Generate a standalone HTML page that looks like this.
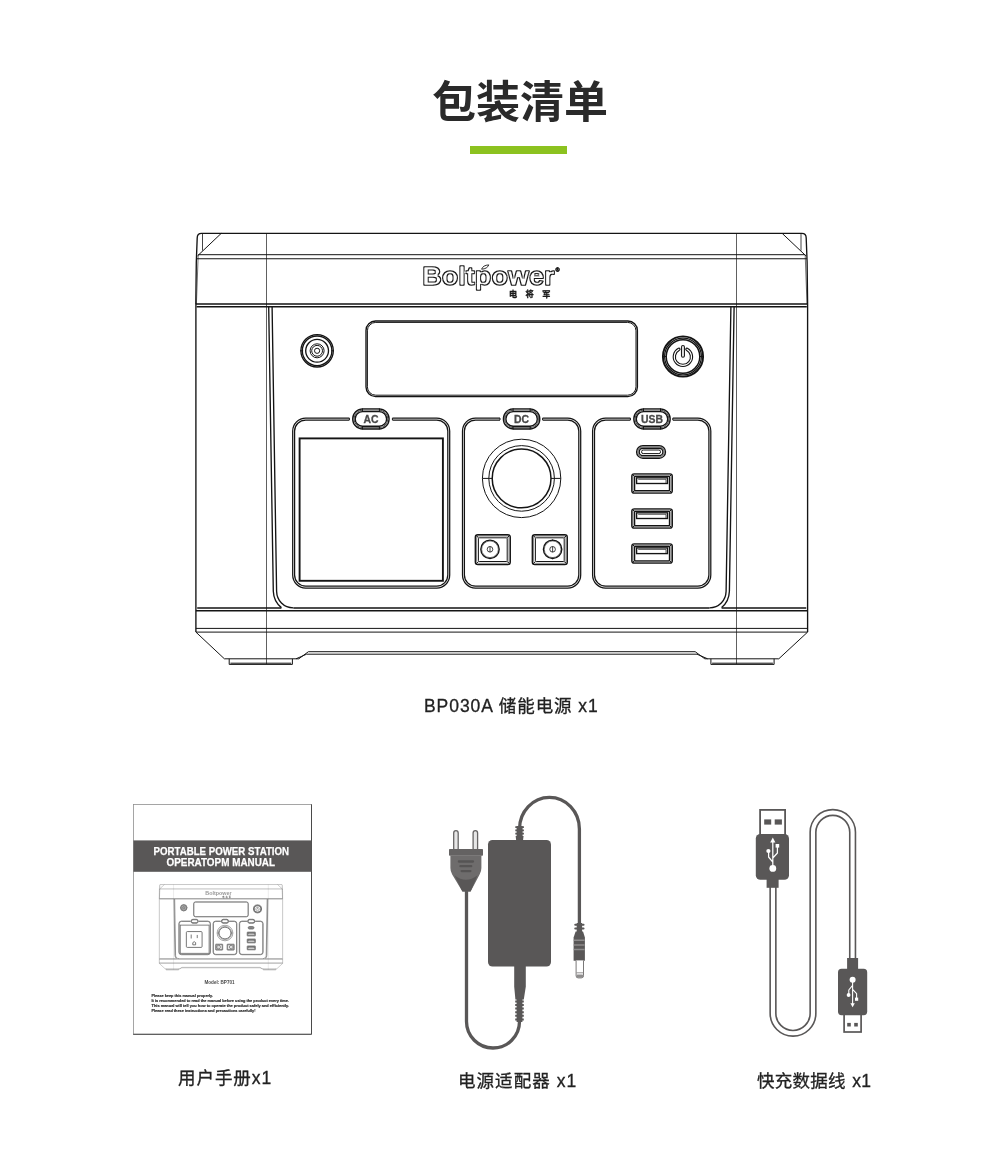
<!DOCTYPE html>
<html lang="zh-CN">
<head>
<meta charset="utf-8">
<title>包装清单</title>
<style>
html,body{margin:0;padding:0;background:#fff;}
body{width:1000px;height:1172px;position:relative;overflow:hidden;font-family:"Liberation Sans","Noto Sans CJK SC",sans-serif;color:#222;}
#art{position:absolute;left:0;top:0;width:1000px;height:1172px;display:block;}
h1{position:absolute;left:0;top:0;margin:0;width:1000px;font-weight:700;font-size:44px;line-height:44px;color:#2a2a2a;white-space:nowrap;}
h1 span{position:absolute;left:431.5px;top:81px;will-change:transform;}
.bar{position:absolute;left:470px;top:146px;width:97px;height:8px;background:#8cc220;}
.sh{stroke-opacity:var(--sh,1)}
.k{stroke-width:var(--k,1.35px)}.b{stroke-width:var(--k,1.25px)}.km{stroke-width:var(--kk,1.5px)}.kk{stroke-width:var(--kk,1.9px)}
.lab{position:absolute;margin:0;font-size:17.5px;line-height:24px;height:24px;white-space:nowrap;letter-spacing:0.95px;color:#222;font-weight:400;-webkit-text-stroke:0.3px #222;will-change:transform;}
</style>
</head>
<body>
<h1><span>包装清单</span></h1>
<div class="bar"></div>

<svg id="art" width="1000" height="1172" viewBox="0 0 1000 1172">
<defs>
<g id="dev" fill="none">
<g class="sh">
<!-- lid outline -->
<path d="M195.8,304 L196.3,262 L197.2,238 Q197.2,233.4 201.6,233.4 L801.8,233.4 Q806.2,233.4 806.2,238 L807.1,262 L807.6,304" class="k"/>
<path d="M198.2,255 L196.4,304 M805.2,255 L807,304" stroke-opacity=".6"/>
<path d="M202.5,233.5 V250.6 M801,233.5 V250.6" stroke-width="0.8"/><path d="M221.2,233.4 L197.6,255.8 M782.2,233.4 L805.9,255.8"/>
<path d="M198.2,254.7 H805.2"/><path d="M196.6,258.7 H806.8" stroke-width="1.15"/>
<!-- long verticals -->
<path d="M266.5,233.4 V664 M736.5,233.4 V664" stroke-width="0.8" stroke-opacity=".85"/>
<!-- seam under lid -->
<path d="M195.8,304.1 H807.6 M196.6,306.8 H806.8" class="km"/>
<!-- body sides -->
<path d="M195.9,304 V632 M807.6,304 V632" class="k"/>
<!-- lower seams -->
<path d="M197.2,607.9 H281.4 M293.4,607.9 H709.4 M721.6,607.9 H806.2 M195.9,610.7 H807.6" class="km"/>
<path d="M195.9,628.4 H807.6 M195.9,632.1 H807.6"/>
<!-- base -->
<path d="M195.9,632.1 L224.4,658.8 H298.8 L308.4,651.7 H695.2 L704.8,658.8 H778.8 L807.6,632.1"/>
<path d="M296,658.8 L306.6,654.2 H697 L707.6,658.8"/>
<path d="M229.2,658.8 V664.4 H292.4 V658.8 M230.4,663.2 H291.2 M710.9,658.8 V664.4 H774.1 V658.8 M712.1,663.2 H772.9"/>
</g>
<!-- front panel frame -->
<path d="M268.7,307 L273.3,591.3 Q273.7,601.6 281.4,607.6 M734.1,307 L729.4,591.3 Q729,601.6 721.6,607.6" class="k"/>
<path d="M272.1,307 L276.6,591.3 C276.9,600.6 283.6,607.9 293.4,607.9 M730.9,307 L726.1,591.3 C725.8,600.6 719.1,607.9 709.4,607.9" class="k"/>
<!-- display -->
<rect x="366" y="321" width="271.4" height="75.6" rx="9.5" class="k"/>
<rect x="367.4" y="322.4" width="268.6" height="72.8" rx="8.4"/>
<!-- small round jack -->
<g class="k"><circle cx="317.1" cy="350.8" r="16.2"/><circle cx="317.1" cy="350.8" r="14.8"/><circle cx="317.1" cy="350.8" r="11.4"/></g>
<circle cx="317.1" cy="350.8" r="7"/><circle cx="317.1" cy="350.8" r="5.4"/><circle cx="317.1" cy="350.8" r="2.6"/>
<path d="M300.2,350.8 H303.2 M331,350.8 H334"/>
<!-- power button -->
<circle cx="683" cy="356.5" r="20.1" class="kk"/><circle cx="683" cy="356.5" r="18.4" class="b"/><circle cx="683" cy="356.5" r="16.8" class="km"/>
<path d="M662.2,356.5 H666.4 M699.6,356.5 H703.8"/>
<path d="M678.9,349.2 A8.6,8.6 0 1 0 686.9,349.2" stroke-width="3.3" stroke-linecap="round"/>
<path d="M678.9,349.2 A8.6,8.6 0 1 0 686.9,349.2" stroke="#fff" stroke-width="1.1" stroke-linecap="round"/>
<path d="M682.95,347.1 V355.8" stroke-width="4" stroke-linecap="round"/>
<path d="M682.95,347.1 V355.8" stroke="#e2e2e2" stroke-width="2" stroke-linecap="round"/>
<!-- AC box -->
<path d="M349.4,418.1 H305.7 A13,13 0 0 0 292.7,431.1 V575.0 A13,13 0 0 0 305.7,588 H436.7 A13,13 0 0 0 449.7,575.0 V431.1 A13,13 0 0 0 436.7,418.1 H392.4" class="b"/>
<path d="M349.4,420.0 H305.7 A11.1,11.1 0 0 0 294.6,431.1 V575.0 A11.1,11.1 0 0 0 305.7,586.1 H436.7 A11.1,11.1 0 0 0 447.8,575.0 V431.1 A11.1,11.1 0 0 0 436.7,420.0 H392.4" class="b"/>
<path d="M349.4,418.1 V420.0 M392.4,418.1 V420.0"/>
<rect x="299.6" y="438.4" width="143.3" height="142.4" class="kk"/>
<!-- DC box -->
<path d="M500,418.1 H475.5 A13,13 0 0 0 462.5,431.1 V575.0 A13,13 0 0 0 475.5,588 H567.7 A13,13 0 0 0 580.7,575.0 V431.1 A13,13 0 0 0 567.7,418.1 H542.6" class="b"/>
<path d="M500,420.0 H475.5 A11.1,11.1 0 0 0 464.4,431.1 V575.0 A11.1,11.1 0 0 0 475.5,586.1 H567.7 A11.1,11.1 0 0 0 578.8,575.0 V431.1 A11.1,11.1 0 0 0 567.7,420.0 H542.6" class="b"/>
<path d="M500,418.1 V420.0 M542.6,418.1 V420.0"/>
<circle cx="521.6" cy="478.4" r="39.2"/>
<circle cx="521.6" cy="478.4" r="32.8"/>
<circle cx="521.6" cy="478.4" r="29.4" class="km"/>
<path d="M482.4,478.4 H492.2 M551,478.4 H560.8"/>
<!-- DC small ports -->
<g id="dcp">
<rect x="475.3" y="534.7" width="35" height="29.9" rx="2.6" class="k"/>
<rect x="476.6" y="536" width="32.4" height="27.3" rx="1.8" stroke-opacity=".55"/>
<rect x="478.4" y="537.8" width="28.8" height="23.7" rx="0.8"/>
<path d="M476,535.4 L478.4,537.8 M509.6,535.4 L507.2,537.8 M476,563.9 L478.4,561.5 M509.6,563.9 L507.2,561.5"/>
<circle cx="490" cy="549.3" r="9.2" class="k"/><circle cx="490" cy="549.3" r="8.3" stroke-opacity=".5"/>
<circle cx="490" cy="549.3" r="2.8" stroke-width="0.8"/><path d="M490,546.5 V552.1" stroke-width="0.8"/>
</g>
<use href="#dcp" transform="matrix(-1 0 0 1 1042.6 0)"/>
<path d="M552.6,539.4 V541 M552.6,557.6 V559.2" stroke-opacity=".8"/>
<!-- USB box -->
<path d="M630.4,418.1 H605.6 A13,13 0 0 0 592.6,431.1 V575.0 A13,13 0 0 0 605.6,588 H697.8 A13,13 0 0 0 710.8,575.0 V431.1 A13,13 0 0 0 697.8,418.1 H672.8" class="b"/>
<path d="M630.4,420.0 H605.6 A11.1,11.1 0 0 0 594.5,431.1 V575.0 A11.1,11.1 0 0 0 605.6,586.1 H697.8 A11.1,11.1 0 0 0 708.9,575.0 V431.1 A11.1,11.1 0 0 0 697.8,420.0 H672.8" class="b"/>
<path d="M630.4,418.1 V420.0 M672.8,418.1 V420.0"/>
<!-- pills -->
<g id="pill">
<rect x="352.7" y="408.8" width="36.4" height="20.2" rx="10.1" class="k"/>
<rect x="354" y="410.1" width="33.8" height="17.6" rx="8.8" stroke-opacity=".75"/>
<rect x="355.2" y="411.6" width="31.4" height="14.6" rx="7.3" class="k"/>
<path d="M362.4,408.4 V411.6 M379.4,408.4 V411.6 M362.4,426.2 V429.4 M379.4,426.2 V429.4"/>
</g>
<use href="#pill" x="150.7" y="0"/>
<use href="#pill" x="281.1" y="0"/>
<!-- USB-C -->
<rect x="636.6" y="445.6" width="28.9" height="12.6" rx="6.3" class="k"/>
<rect x="637.9" y="446.9" width="26.3" height="10" rx="5" stroke-opacity=".6"/>
<rect x="639.2" y="448.2" width="23.7" height="7.4" rx="3.7" class="k"/>
<rect x="641.6" y="450" width="18.9" height="3.6" rx="1.6"/>
<!-- USB-A -->
<g id="usba">
<rect x="631.8" y="473.8" width="40.5" height="19.3" rx="2.4" class="k"/>
<rect x="633" y="475" width="38.1" height="16.9" rx="1.6" stroke-opacity=".6"/>
<rect x="634.6" y="476.4" width="34.9" height="14.3" rx="0.8" class="k"/>
<path d="M632.5,474.5 L634.6,476.4 M671.6,474.5 L669.5,476.4 M632.5,492.4 L634.6,490.7 M671.6,492.4 L669.5,490.7"/>
<rect x="636.6" y="477.8" width="30.9" height="5.7" class="k"/>
<path d="M638.2,479.3 H666 V483.4" stroke-opacity=".7"/>
</g>
<use href="#usba" x="0" y="35"/>
<use href="#usba" x="0" y="70.1"/>

</g>
</defs>
<g stroke="#141414" stroke-width="1" class="m"><use href="#dev"/></g>
<!-- logo -->
<g font-family="'Liberation Sans',sans-serif">
<filter id="ol" x="-5%" y="-20%" width="110%" height="140%" color-interpolation-filters="sRGB"><feMorphology in="SourceAlpha" operator="erode" radius="1" result="e"/><feComposite in="SourceGraphic" in2="e" operator="out"/></filter>
<text x="422.2" y="285" font-size="26.4" font-weight="700" textLength="132.4" lengthAdjust="spacingAndGlyphs" fill="#1a1a1a" stroke="#1a1a1a" stroke-width="1.5" stroke-linejoin="round" filter="url(#ol)">Boltpower</text>
<path d="M481.6,269.2 Q483,265.2 488.8,264.9 Q487.2,268.9 481.6,269.2 Z" fill="none" stroke="#1a1a1a" stroke-width="0.9" stroke-linejoin="round"/>
<text x="555.6" y="271.6" font-size="5.6" font-weight="700" fill="#1a1a1a" stroke="#1a1a1a" stroke-width="0.5">®</text>
<text x="509" y="297.2" font-family="'Liberation Sans','Noto Sans CJK SC',sans-serif" font-size="8.2" font-weight="700" fill="#1c1c1c" stroke="#1c1c1c" stroke-width="0.35" letter-spacing="8.4">电将军</text>
<g font-size="10.4" font-weight="700" fill="#4a4a4a" stroke="#4a4a4a" stroke-width="0.3" text-anchor="middle">
<text x="370.9" y="422.7">AC</text>
<text x="521.6" y="422.7">DC</text>
<text x="652" y="422.7">USB</text>
</g>
</g>

<g id="manual">
<rect x="133.4" y="804.4" width="178" height="229.8" fill="#fff" stroke="#8f8f8f" stroke-width="0.8"/>
<path d="M311.5,804.4 V1034.3 H133.2" fill="none" stroke="#4a4a4a" stroke-width="1"/>
<rect x="133.4" y="840.4" width="178.2" height="31.4" fill="#595757"/>
<g font-family="'Liberation Sans',sans-serif" font-weight="700" font-size="10.9" fill="#fff" stroke="#fff" stroke-width="0.25" text-anchor="middle">
<text x="221.3" y="855.3" textLength="135.5" lengthAdjust="spacingAndGlyphs">PORTABLE POWER STATION</text>
<text x="220.8" y="865.9" textLength="108.5" lengthAdjust="spacingAndGlyphs">OPERATOPM MANUAL</text>
</g>
<g transform="translate(159.3,884.5) scale(0.2016,0.198) translate(-195.8,-233.3)" stroke="#6a6a6a" stroke-width="3" style="--k:3.4px;--kk:4.2px;--sh:.55"><use href="#dev"/>
<g fill="none" stroke="#555" stroke-width="4"><rect x="330" y="471" width="78" height="80" rx="5"/><path d="M354,486 V506 M384,488 V504 M362,538 V527 Q369,517 376,527 V538 Z"/></g>
<text x="424" y="287" font-family="'Liberation Sans',sans-serif" font-size="27" font-weight="700" fill="#9a9a9a" stroke="none" textLength="130" lengthAdjust="spacingAndGlyphs">Boltpower</text>
<text x="508" y="301" font-family="'Liberation Sans','Noto Sans CJK SC',sans-serif" font-size="11" font-weight="700" fill="#555" stroke="none" letter-spacing="5">电将军</text>
</g>
<g font-family="'Liberation Sans',sans-serif" fill="#2a2a2a">
<text x="219.5" y="984" font-size="4.6" text-anchor="middle" font-weight="700" fill="#4a4a4a">Model: BP701</text>
<g font-size="3.6" font-weight="700" stroke="#2a2a2a" stroke-width="0.15">
<text x="151.5" y="996.8" textLength="61.5" lengthAdjust="spacingAndGlyphs">Please keep this manual properly.</text>
<text x="151.5" y="1001.9" textLength="137.5" lengthAdjust="spacingAndGlyphs">It is recommended to read the manual before using the product every time.</text>
<text x="151.5" y="1006.9" textLength="137.5" lengthAdjust="spacingAndGlyphs">This manual will tell you how to operate the product safely and efficiently.</text>
<text x="151.5" y="1011.9" textLength="104" lengthAdjust="spacingAndGlyphs">Please read these instructions and precautions carefully!</text>
</g>
</g>
</g>

<g id="adapter">
<!-- cables -->
<path d="M466.5,890 V1021.5 A26.5,26.5 0 0 0 519.5,1021.5 V1018" fill="none" stroke="#595757" stroke-width="3.3"/>
<path d="M519.5,829 A29.95,31.6 0 0 1 579.4,829 V924" fill="none" stroke="#595757" stroke-width="3.3"/>
<!-- body -->
<rect x="488" y="840" width="63" height="126.5" rx="4.5" fill="#595757"/>
<!-- top strain relief -->
<path d="M516.2,840.5 L515.6,836 H523.6 L523,840.5 Z" fill="#595757"/>
<path d="M515.3,827.2 H523.9 M515.3,830.4 H523.9 M515.3,833.6 H523.9" stroke="#595757" stroke-width="1.7" fill="none"/>
<rect x="516.6" y="826" width="6" height="12" fill="#595757"/>
<!-- bottom strain relief -->
<path d="M514.2,966 H525.8 V986.4 L523.8,999.5 H515.4 L514.2,986.4 Z" fill="#595757"/>
<rect x="516.6" y="999" width="5.8" height="23" fill="#595757"/>
<path d="M515.2,1001.4 H523.8 M515.2,1005 H523.8 M515.2,1008.6 H523.8 M515.2,1012.2 H523.8 M515.2,1015.8 H523.8 M515.2,1019.4 H523.8" stroke="#595757" stroke-width="2" fill="none"/>
<!-- euro plug -->
<rect x="453.7" y="830.7" width="4.5" height="20" rx="2.25" fill="#e6e6e6" stroke="#676565" stroke-width="1.3"/>
<rect x="473.1" y="830.7" width="4.5" height="20" rx="2.25" fill="#e6e6e6" stroke="#676565" stroke-width="1.3"/>
<rect x="449" y="849" width="34" height="6.8" rx="0.8" fill="#646262"/>
<path d="M450.4,855.6 H481.4 V868 Q481.4,871.5 479.6,874.4 L470.6,891.4 H462.4 L452.2,874.4 Q450.4,871.5 450.4,868 Z" fill="#6e6c6c"/>
<path d="M454.6,875.6 Q466,884 477.4,875.6 L470.6,891.6 H462.4 Z" fill="#595757"/>
<path d="M458.9,861.5 H473 M460.4,866.2 H471.2 M461.6,871.1 H470.4" stroke="#565454" stroke-width="2.3" stroke-linecap="round" fill="none"/>
<!-- DC plug -->
<rect x="576.7" y="923" width="5.4" height="11" fill="#595757"/>
<path d="M575.2,924.8 H583.6 M575.2,928.5 H583.6" stroke="#595757" stroke-width="1.9" stroke-linecap="round" fill="none"/>
<path d="M575.6,931.6 H583 L584.9,937.6 V960.8 H573.6 V937.6 Z" fill="#595757"/>
<path d="M573.8,940.2 H584.7 M573.8,944.9 H584.7 M573.8,949.6 H584.7" stroke="#8d8b8b" stroke-width="1.5" fill="none"/>
<path d="M576.1,960.6 V975.8 Q576.1,977.9 578.2,977.9 H581.4 Q583.5,977.9 583.5,975.8 V960.6" fill="#fff" stroke="#7a7878" stroke-width="1"/>
<path d="M576.3,972.8 H583.3" stroke="#8a8888" stroke-width="0.9" fill="none"/>
<rect x="576.3" y="974.6" width="7" height="3.2" rx="1.4" fill="#8f8d8d"/>
</g>

<g id="cable">
<!-- cable (outlined tube) -->
<path id="cb" d="M773,886 V1013.3 A20,20 0 0 0 813,1013.3 V832.3 A19.8,19.8 0 0 1 852.6,832.3 V960" fill="none" stroke="#595757" stroke-width="7.3"/>
<path d="M773,886 V1013.3 A20,20 0 0 0 813,1013.3 V832.3 A19.8,19.8 0 0 1 852.6,832.3 V960" fill="none" stroke="#fff" stroke-width="4.1"/>
<!-- plug 1 (top, large) -->
<rect x="760.1" y="809.9" width="25" height="25" fill="#fff" stroke="#595757" stroke-width="1.8"/>
<rect x="764.2" y="819.4" width="7" height="5.2" fill="#595757"/>
<rect x="774.7" y="819.4" width="7.2" height="5.2" fill="#595757"/>
<rect x="755.8" y="834" width="33.2" height="45.8" rx="4.6" fill="#595757"/>
<rect x="766.6" y="878" width="12" height="9.8" fill="#595757"/>
<g fill="#fff" stroke="none">
<circle cx="772.8" cy="868.4" r="3.4"/>
<path d="M772.8,837.6 L775.4,842.4 H770.2 Z"/>
<circle cx="768.4" cy="851" r="2.1"/>
<rect x="775.6" y="844" width="3.6" height="3.6"/>
</g>
<path d="M772.8,841 V866 M772.8,862.2 L768.6,857 V852 M772.8,858 L777.4,853 V847" fill="none" stroke="#fff" stroke-width="1.25" stroke-linejoin="round"/>
<!-- plug 2 (bottom, small) -->
<rect x="847.1" y="958" width="11" height="12" fill="#595757"/>
<rect x="838" y="968.8" width="29.2" height="46.4" rx="3.6" fill="#595757"/>
<rect x="844.1" y="1014.4" width="17" height="17.6" fill="#fff" stroke="#595757" stroke-width="1.7"/>
<rect x="847.2" y="1022.9" width="3.6" height="3.6" fill="#595757"/>
<rect x="854.2" y="1022.9" width="3.6" height="3.6" fill="#595757"/>
<g fill="#fff" stroke="none">
<circle cx="852.6" cy="979.8" r="3"/>
<path d="M852.6,1007.2 L850.4,1003.2 H854.8 Z"/>
<circle cx="848.6" cy="995" r="1.9"/>
<rect x="855" y="997.6" width="3.2" height="3.2"/>
</g>
<path d="M852.6,981 V1004 M852.6,985.4 L848.8,990 V994 M852.6,989.4 L856.6,993.6 V998" fill="none" stroke="#fff" stroke-width="1.1" stroke-linejoin="round"/>
</g>

</svg>

<p class="lab" style="left:424px;top:694.2px;">BP030A 储能电源 x1</p>
<p class="lab" style="left:178px;top:1066.3px;">用户手册x1</p>
<p class="lab" style="left:457.6px;top:1069.3px;letter-spacing:1.05px">电源适配器 x1</p>
<p class="lab" style="left:756.6px;top:1069.3px;letter-spacing:0.25px;word-spacing:1.5px">快充数据线 x1</p>
</body>
</html>
